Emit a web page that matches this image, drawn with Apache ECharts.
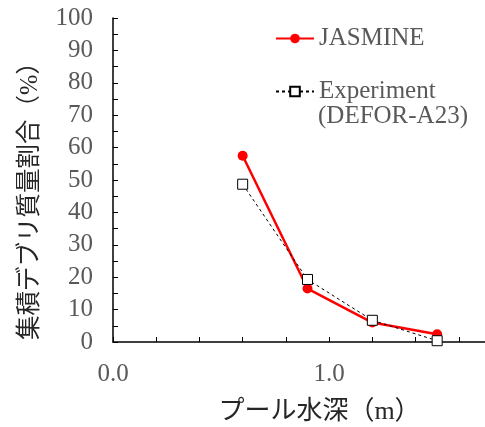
<!DOCTYPE html>
<html>
<head>
<meta charset="utf-8">
<script src="https://cdn.jsdelivr.net/npm/echarts@6/dist/echarts.min.js"></script>
<style>
  html, body { margin: 0; padding: 0; background: #fff; }
  #chart { width: 485px; height: 427px; }
</style>
</head>
<body>
<div id="chart"></div>
<script>
// プール水深 (m)
const depth = [0.6, 0.9, 1.2, 1.5];
// 集積デブリ質量割合 (%)
const jasmine = [57.5, 16.5, 6.0, 2.4];
const experiment = [48.7, 19.3, 6.7, 0.4];
const xLabels = [0, 1];

const serif = '"Liberation Serif", "Noto Sans CJK JP", serif';
const labelColor = '#595959';

const chart = echarts.init(document.getElementById('chart'), null, { renderer: 'canvas' });

const option = {
  animation: false,
  backgroundColor: '#fff',
  grid: { left: 113, top: 18, right: -17, bottom: 85, outerBoundsMode: 'none', containLabel: false },
  legend: [{
    data: ['JASMINE'],
    left: 270, top: 21,
    itemWidth: 38, itemHeight: 12,
    textStyle: { fontFamily: serif, fontSize: 25, color: labelColor }
  }, {
    data: ['Experiment'],
    left: 270, top: 74,
    itemWidth: 38, itemHeight: 12,
    textStyle: { fontFamily: serif, fontSize: 25, color: labelColor }
  }],
  graphic: [{
    type: 'text', left: 318, top: 104,
    style: { text: '(DEFOR-A23)', font: '25px ' + serif, fill: labelColor }
  }],
  xAxis: {
    type: 'value', min: 0, max: 1.8, interval: 0.2,
    name: 'プール水深（m）',
    nameLocation: 'middle', nameGap: 57,
    nameTextStyle: { fontFamily: serif, fontSize: 26, color: '#262626', padding: [0, 0, 0, 24] },
    axisLine: { lineStyle: { color: '#000', width: 1.5 } },
    axisTick: { inside: true, length: 5, lineStyle: { color: '#000' } },
    axisLabel: {
      margin: 20, fontFamily: serif, fontSize: 25, color: labelColor,
      formatter: v => xLabels.some(t => Math.abs(t - v) < 1e-6) ? v.toFixed(1) : ''
    },
    splitLine: { show: false }
  },
  yAxis: {
    type: 'value', min: 0, max: 100, interval: 10,
    name: '集積デブリ質量割合（%）',
    nameLocation: 'middle', nameGap: 70, nameRotate: 90,
    nameTextStyle: { fontFamily: serif, fontSize: 24.5, color: '#262626', padding: [0, 30, 0, 0] },
    axisLine: { show: true, lineStyle: { color: '#000', width: 1.5 } },
    axisTick: { inside: true, length: 5, lineStyle: { color: '#000' } },
    minorTick: { show: true, splitNumber: 2, length: 5, lineStyle: { color: '#000' } },
    axisLabel: { margin: 20, fontFamily: serif, fontSize: 25, color: labelColor },
    splitLine: { show: false }
  },
  series: [{
    name: 'JASMINE',
    type: 'line',
    data: depth.map((d, i) => [d, jasmine[i]]),
    symbol: 'circle', symbolSize: 10,
    itemStyle: { color: '#ff0000' },
    lineStyle: { color: '#ff0000', width: 2.5 },
    z: 2
  }, {
    name: 'Experiment',
    type: 'line',
    data: depth.map((d, i) => [d, experiment[i]]),
    symbol: 'rect', symbolSize: 10,
    itemStyle: { color: '#fff', borderColor: '#000', borderWidth: 1 },
    lineStyle: { color: '#000', width: 1, type: [3, 3] },
    z: 3
  }]
};

chart.setOption(option);
</script>
</body>
</html>
